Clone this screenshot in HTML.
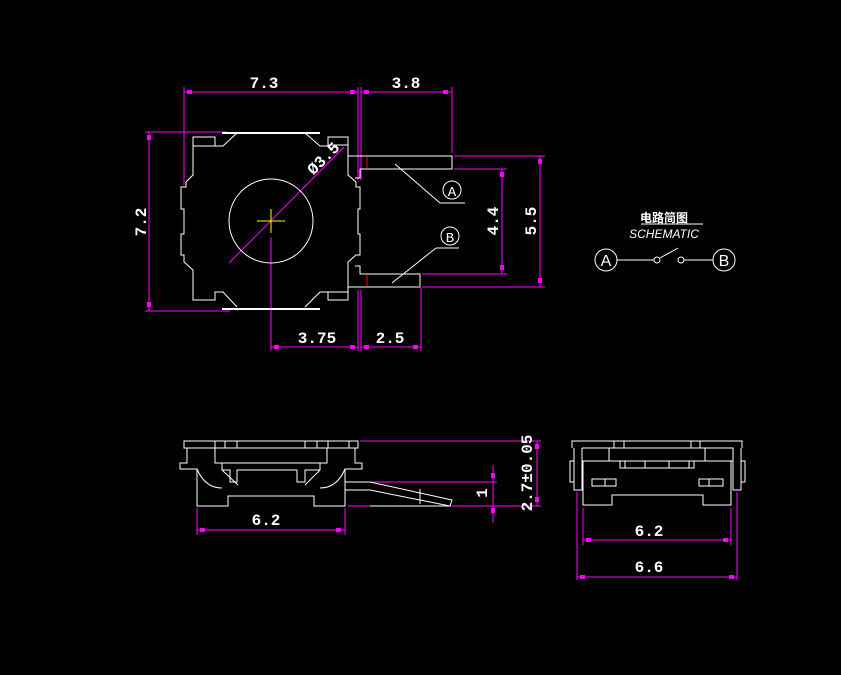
<!DOCTYPE html>
<html><head><meta charset="utf-8"><style>
html,body{margin:0;padding:0;background:#000;}
svg{display:block}
text{font-family:"Liberation Mono","Noto Sans CJK SC",monospace;fill:#fff;font-weight:bold;font-size:16px;text-anchor:middle}
</style></head><body>
<svg width="841" height="675" viewBox="0 0 841 675" xmlns="http://www.w3.org/2000/svg">
<rect width="841" height="675" fill="#000"/>
<g stroke="#f0f" stroke-width="1" fill="none">
<line x1="184" y1="92" x2="358" y2="92"/><line x1="361" y1="92" x2="452" y2="92"/>
<line x1="184" y1="87" x2="184" y2="185"/><line x1="358" y1="87" x2="358" y2="180"/><line x1="361" y1="87" x2="361" y2="180"/>
<line x1="452" y1="87" x2="452" y2="153"/>
<line x1="145" y1="132" x2="227" y2="132"/><line x1="145" y1="311" x2="230" y2="311"/><line x1="149" y1="132" x2="149" y2="311"/>
<line x1="454" y1="156" x2="545" y2="156"/><line x1="454" y1="169" x2="507" y2="169"/>
<line x1="422" y1="274" x2="507" y2="274"/><line x1="422" y1="287" x2="545" y2="287"/>
<line x1="502" y1="169" x2="502" y2="274"/><line x1="540" y1="156" x2="540" y2="287"/>
<line x1="271" y1="237" x2="271" y2="351"/><line x1="358" y1="290" x2="358" y2="351"/><line x1="361" y1="290" x2="361" y2="351"/>
<line x1="421" y1="288" x2="421" y2="351"/>
<line x1="271" y1="347" x2="358" y2="347"/><line x1="361" y1="347" x2="421" y2="347"/>
<line x1="229" y1="263" x2="344" y2="147"/>
<line x1="360" y1="441" x2="541" y2="441"/><line x1="370" y1="482" x2="497" y2="482"/><line x1="348" y1="506" x2="541" y2="506"/>
<line x1="493" y1="465" x2="493" y2="523"/><line x1="537" y1="441" x2="537" y2="506"/>
<line x1="197" y1="508" x2="197" y2="535"/><line x1="345" y1="508" x2="345" y2="535"/><line x1="197" y1="530" x2="345" y2="530"/>
<line x1="583" y1="508" x2="583" y2="545"/><line x1="731" y1="508" x2="731" y2="545"/><line x1="583" y1="540" x2="731" y2="540"/>
<line x1="577" y1="492" x2="577" y2="580"/><line x1="737" y1="492" x2="737" y2="580"/><line x1="577" y1="577" x2="737" y2="577"/>
</g>
<g fill="#f0f">
<rect x="187" y="90" width="5" height="4"/><rect x="350" y="90" width="5" height="4"/><rect x="364" y="90" width="5" height="4"/><rect x="443" y="90" width="5" height="4"/>
<rect x="147" y="135" width="4" height="5"/><rect x="147" y="302" width="4" height="5"/>
<rect x="500" y="172" width="4" height="5"/><rect x="500" y="265" width="4" height="5"/>
<rect x="538" y="159" width="4" height="5"/><rect x="538" y="278" width="4" height="5"/>
<rect x="274" y="345" width="5" height="4"/><rect x="350" y="345" width="5" height="4"/><rect x="364" y="345" width="5" height="4"/><rect x="413" y="345" width="5" height="4"/>
<rect x="200" y="528" width="5" height="4"/><rect x="336" y="528" width="5" height="4"/>
<rect x="586" y="538" width="5" height="4"/><rect x="723" y="538" width="5" height="4"/>
<rect x="580" y="575" width="5" height="4"/><rect x="729" y="575" width="5" height="4"/>
<rect x="491" y="473" width="4" height="5"/><rect x="491" y="508" width="4" height="5"/>
<rect x="535" y="444" width="4" height="5"/><rect x="535" y="497" width="4" height="5"/>
</g>
<g stroke="#fff" stroke-width="1" fill="none">
<line x1="222" y1="133" x2="320" y2="133" stroke-width="2"/>
<line x1="222" y1="309" x2="320" y2="309" stroke-width="2"/>
<path d="M193,145 V137 H215 V146 H223 L237,133 M305,133 L320,146 H328 V137 H348 V145 H328 M215,146 H193"/>
<path d="M193,145 V175 L186,182 V187 H181 V209 H184 V234 H181 V255 H184 V262 L193,270 V300 H215 V292 H223 L237,307 M305,307 L320,292 H328 V300 H348 V292 H328"/>
<path d="M348,145 V175 L356,182 V187 H360 V209 H358 V234 H360 V255 H356 L348,262 V300"/>
<path d="M348,156 H452 V169 H360 V178 H355"/>
<path d="M348,287 H420 V274 H360 V266 H355"/>
<circle cx="271" cy="221" r="42"/>
<line x1="395" y1="164" x2="440" y2="203"/><line x1="440" y1="203" x2="465" y2="203"/>
<line x1="392" y1="283" x2="436" y2="248"/><line x1="436" y1="248" x2="459" y2="248"/>
<circle cx="452" cy="190" r="9"/><circle cx="450" cy="236" r="9"/>
</g>
<line x1="367" y1="157" x2="367" y2="168" stroke="#f00"/><line x1="367" y1="275" x2="367" y2="286" stroke="#f00"/>
<g stroke="#ff0"><line x1="257" y1="221" x2="285" y2="221"/><line x1="271" y1="209" x2="271" y2="233"/></g>
<text x="452" y="196" style="font-weight:normal;font-size:14px">A</text>
<text x="450" y="242" style="font-weight:normal;font-size:14px">B</text>
<text x="264" y="88">7.3</text><text x="406" y="88">3.8</text>
<text x="317" y="343">3.75</text><text x="390" y="343">2.5</text>
<text transform="translate(146,222) rotate(-90)">7.2</text>
<text transform="translate(498,221) rotate(-90)">4.4</text>
<text transform="translate(536,221) rotate(-90)">5.5</text>
<text transform="translate(327,162) rotate(-45)">Ø3.5</text>
<text x="664" y="222" style="font-size:12px;font-family:'Noto Sans CJK SC',sans-serif">电路简图</text>
<line x1="641" y1="224" x2="703" y2="224" stroke="#fff"/>
<text x="664" y="238" style="font-family:'Liberation Sans',sans-serif;font-style:italic;font-weight:normal;font-size:12px">SCHEMATIC</text>
<g stroke="#fff" fill="none">
<circle cx="606" cy="260" r="11"/><line x1="617" y1="260" x2="654" y2="260"/><circle cx="657" cy="260" r="3"/>
<line x1="660" y1="258" x2="678" y2="248"/><circle cx="681" cy="260" r="3"/><line x1="684" y1="260" x2="713" y2="260"/><circle cx="724" cy="260" r="11"/>
</g>
<text x="606" y="266" style="font-family:'Liberation Sans',sans-serif;font-weight:normal">A</text>
<text x="724" y="266" style="font-family:'Liberation Sans',sans-serif;font-weight:normal">B</text>
<g stroke="#fff" fill="none">
<rect x="184" y="441" width="174" height="7"/>
<path d="M215,441V448M225,441V448M237,441V448M305,441V448M317,441V448M328,441V448M349,441V448"/>
<path d="M187,448V463H180V469H197V506H228V496H314V506H345V469H362V463H355V448"/>
<path d="M197,469 Q205,488 222,488 M345,469 Q337,488 320,488"/>
<path d="M215,448V463H222V470H230V482H237V470H297V482H305V470H320V463H327V448"/>
<path d="M215,463H327"/>
<path d="M222,470 L238,485 M320,470 L305,485"/>
<path d="M345,482H370L452,500L450,506H370M345,490H370L450,506M420,489V504"/>
</g>
<text x="266" y="525">6.2</text>
<text transform="translate(487,493) rotate(-90)">1</text>
<text transform="translate(532,473) rotate(-90)">2.7±0.05</text>
<g stroke="#fff" fill="none">
<path d="M572,448V441H742V448"/>
<path d="M574,448V490H582V448M733,448V490H741V448"/>
<path d="M582,448H733V461H582M614,441V448M624,441V448M691,441V448M700,441V448M609,448V461M705,448V461"/>
<path d="M583,461V505H612V495H703V505H731V461"/>
<rect x="620" y="461" width="74" height="7"/><path d="M625,461V468M645,461V468M669,461V468M689,461V468"/>
<rect x="592" y="479" width="24" height="7"/><path d="M605,479V486"/>
<rect x="699" y="479" width="24" height="7"/><path d="M709,479V486"/>
<path d="M574,461H570V482H574M741,461H745V482H741"/>
</g>
<text x="649" y="536">6.2</text><text x="649" y="572">6.6</text>
</svg>
</body></html>
